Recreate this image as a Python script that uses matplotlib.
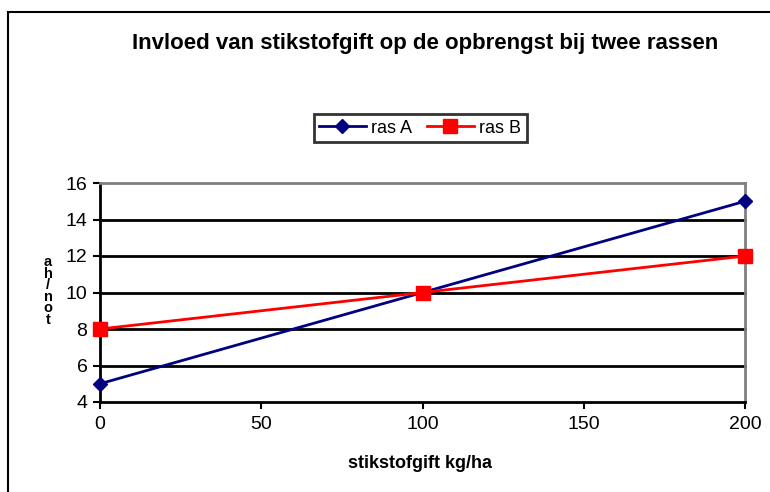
import matplotlib
matplotlib.use('Agg')
import matplotlib.pyplot as plt
from matplotlib.patches import Rectangle

# data
stikstof = [0, 100, 200]
ras_a = [5, 10, 15]
ras_b = [8, 10, 12]
x_ticks = [0, 50, 100, 150, 200]
y_ticks = [4, 6, 8, 10, 12, 14, 16]
y_label = 'ton/ha'

plt.rcParams['font.family'] = ['Liberation Sans', 'DejaVu Sans']

fig = plt.figure(figsize=(7.7, 4.92), dpi=100)
ax = fig.add_axes([100 / 770, 1 - 402 / 492, 645 / 770, 219 / 492])

# rand om de hele grafiek
fig.patches.append(Rectangle((8 / 770, -0.05), 1.1, 1 - 12 / 492 + 0.05, transform=fig.transFigure,
                             fill=False, edgecolor='black', linewidth=1.5))

ax.plot(stikstof, ras_a, color='#000080', linewidth=2, marker='D', markersize=7, label='ras A', zorder=4)
ax.plot(stikstof, ras_b, color='#ff0000', linewidth=2, marker='s', markersize=10, label='ras B', zorder=5)

ax.set_xlim(0, 200)
ax.set_ylim(4, 16)
ax.set_xticks(x_ticks)
ax.set_yticks(y_ticks)
ax.tick_params(axis='both', labelsize=14, direction='out', length=5, width=1.5, colors='black')
ax.tick_params(axis='x', pad=5)
ax.tick_params(axis='y', pad=4)
for y in y_ticks[1:-1]:
    ax.axhline(y, color='black', linewidth=2, zorder=1)

ax.spines['left'].set_linewidth(2)
ax.spines['bottom'].set_linewidth(2)
ax.spines['top'].set_color('#808080')
ax.spines['right'].set_color('#808080')
ax.spines['top'].set_linewidth(2)
ax.spines['right'].set_linewidth(2)
for ln in ax.lines:
    ln.set_clip_on(False)

fig.text(425 / 770, 1 - 43 / 492, 'Invloed van stikstofgift op de opbrengst bij twee rassen',
         ha='center', va='center', fontsize=16, fontweight='bold')
fig.text(420 / 770, 1 - 464 / 492, 'stikstofgift kg/ha', ha='center', va='center',
         fontsize=13, fontweight='bold')

# y-as label, gestapeld (onderste letter eerst) zoals in het origineel
fig.text(48 / 770, 1 - 291 / 492, '\n'.join(reversed(y_label)), ha='center', va='center',
         fontsize=10.5, fontweight='bold', linespacing=0.78)

leg = ax.legend(loc='center', bbox_to_anchor=(420 / 770, 1 - 128 / 492), bbox_transform=fig.transFigure,
                ncol=2, fontsize=13, frameon=True, fancybox=False, edgecolor='black',
                handlelength=2.6, handletextpad=0.3, columnspacing=0.8, borderpad=0.3)
leg.get_frame().set_linewidth(2)

fig.savefig('out.png', dpi=100)
